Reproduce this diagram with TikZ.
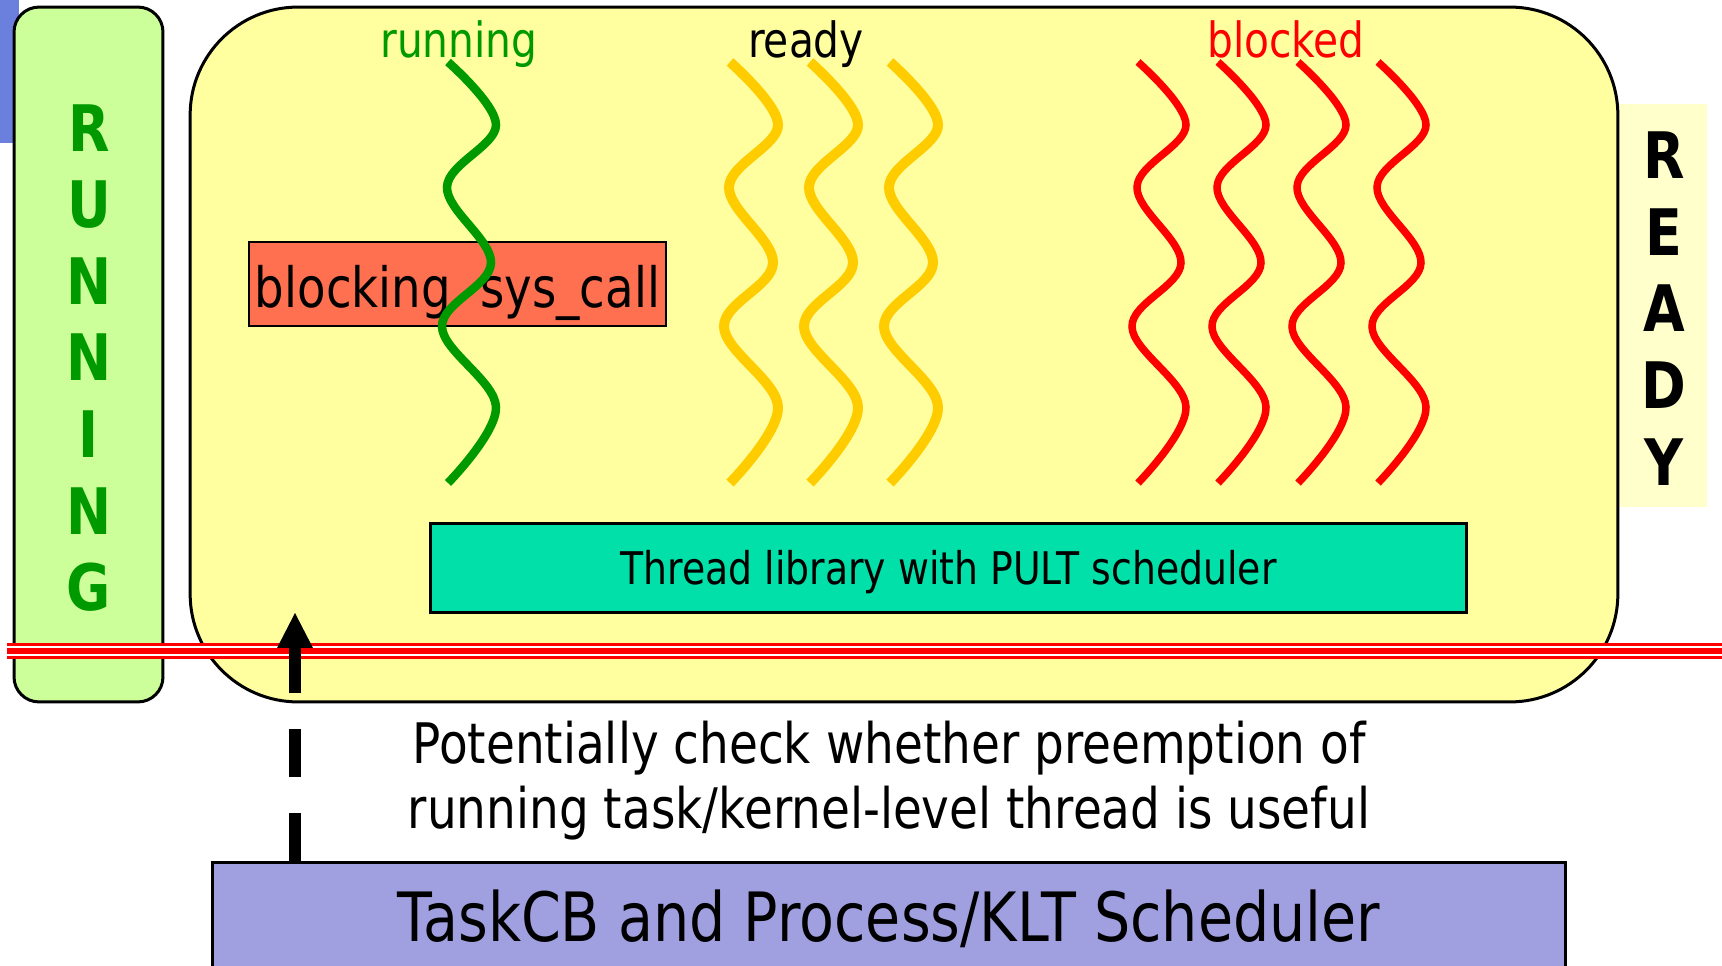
\documentclass[tikz,border=0pt]{standalone}
\usepackage{fontspec}
\setmainfont{DejaVu Sans}[FakeStretch=0.84]
\usetikzlibrary{arrows.meta}
\definecolor{barblue}{HTML}{6B80DD}
\definecolor{runfill}{HTML}{CCFF99}
\definecolor{userfill}{HTML}{FFFFA0}
\definecolor{readyfill}{HTML}{FFFFCC}
\definecolor{libfill}{HTML}{00E0A8}
\definecolor{callfill}{HTML}{FF7050}
\definecolor{schedfill}{HTML}{A0A0E0}
\definecolor{thgreen}{HTML}{009900}
\definecolor{thyellow}{HTML}{FFCC00}

\begin{document}
\begin{tikzpicture}[x=0.02cm,y=-0.02cm,
	box/.style={draw=black,line width=0.06cm,inner sep=0pt},
	letters/.style={font=\bfseries\fontsize{36.5}{43.6}\selectfont,align=center},
	thlabel/.style={font=\fontsize{27.6}{33}\selectfont,anchor=base}]
	\useasboundingbox (0,0) rectangle (1722,966);
	\fill[barblue] (0,0) rectangle (19,143);
	\node[fill=readyfill,minimum width=1.78cm,minimum height=8.06cm] (readybox) at (1662.5,305.5) {};
	\node[box,fill=runfill,rounded corners=0.5cm,minimum width=2.98cm,minimum height=13.9cm] (runbox) at (88.5,354.5) {};
	\node[box,fill=userfill,rounded corners=2.16cm,minimum width=28.56cm,minimum height=13.9cm] (userbox) at (904,354.5) {};
	\node[letters,text=thgreen] (runlbl) at (89,358) {R\\U\\N\\N\\I\\N\\G};
	\node[letters] (readylbl) at (1664,308.5) {R\\E\\A\\D\\Y};
	\node[box,fill=libfill,minimum width=20.74cm,minimum height=1.8cm,text height=0.86cm,text depth=0.21cm,font=\fontsize{25.6}{30}\selectfont] (lib) at (948.5,568) {Thread library with PULT scheduler};
	\node[box,line width=0.04cm,fill=callfill,minimum width=8.34cm,minimum height=1.68cm,text height=1.2cm,text depth=0.26cm,font=\fontsize{31.6}{36}\selectfont] (call) at (457.5,284) {blocking\ \ sys\_call};
	\foreach \x/\c/\w in {448/thgreen/0.17cm,730/thyellow/0.2cm,810/thyellow/0.2cm,890/thyellow/0.2cm,1138/red/0.15cm,1218/red/0.15cm,1298/red/0.15cm,1378/red/0.15cm}
	\draw[\c,line width=\w] plot[smooth,tension=0.6] coordinates {(\x,62) (\x+48,125) (\x-1,187) (\x+43,263) (\x-6,327) (\x+48,407) (\x,483)};
	\node[thlabel,text=thgreen] (lblrun) at (459,58) {running};
	\node[thlabel] (lblready) at (806,58) {ready};
	\node[thlabel,text=red] (lblblock) at (1286,58) {blocked};
	\fill[white] (7,645) rectangle (1722,656);
	\foreach \y/\w in {644/0.06cm,651/0.12cm,657/0.06cm}
	\draw[red,line width=\w] (7,\y) -- (1722,\y);
	\node[box,fill=schedfill,minimum width=27.08cm,minimum height=2.26cm,font=\fontsize{38.7}{44}\selectfont] (sched) at (889,918.5) {TaskCB and Process/KLT Scheduler};
	\node[font=\fontsize{31.8}{37}\selectfont,align=center] (note) at (889,781) {Potentially check whether preemption of\\running task/kernel-level thread is useful};
	\coordinate (tip) at (295,613);
	\draw[line width=0.24cm,dash pattern=on 0.96cm off 0.72cm,-{Triangle[length=0.7cm,width=0.72cm,line width=0pt]}] (sched.north -| tip) -- (tip);
\end{tikzpicture}
\end{document}
